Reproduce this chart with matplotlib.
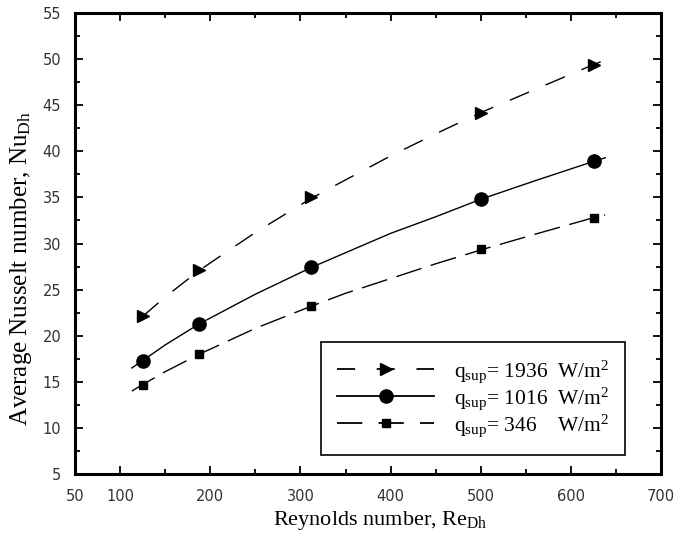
import matplotlib
matplotlib.use("Agg")
import matplotlib.pyplot as plt
from matplotlib.lines import Line2D
from matplotlib.ticker import MultipleLocator, FixedLocator

plt.rcParams['font.family'] = ['Liberation Serif', 'DejaVu Serif']
plt.rcParams['mathtext.fontset'] = 'custom'
plt.rcParams['mathtext.rm'] = 'Liberation Serif'
plt.rcParams['mathtext.it'] = 'Liberation Serif:italic'

# measured data points
re_pts = [125, 188, 312, 500, 625]
nu_1936 = [22.1, 27.1, 35.0, 44.2, 49.4]
nu_1016 = [17.3, 21.3, 27.4, 34.8, 38.9]
nu_346 = [14.7, 18.0, 23.2, 29.4, 32.8]

# fitted curves
re_fit_1936 = [125, 150, 188, 250, 312, 350, 400, 450, 500, 560, 625, 638]
fit_1936 = [22.1, 24.2, 27.1, 31.2, 34.9, 36.9, 39.5, 41.9, 44.2, 46.7, 49.4, 49.9]
re_fit = [113, 125, 150, 188, 250, 312, 350, 400, 450, 500, 560, 625, 638]
fit_1016 = [16.5, 17.3, 19.0, 21.3, 24.5, 27.4, 29.0, 31.1, 32.9, 34.8, 36.8, 38.9, 39.3]
fit_346 = [14.0, 14.7, 16.1, 18.0, 20.8, 23.2, 24.6, 26.2, 27.8, 29.3, 31.0, 32.8, 33.1]

labels = [r'q$_{\rm sup}$= 1936  W/m$^{2}$',
          r'q$_{\rm sup}$= 1016  W/m$^{2}$',
          r'q$_{\rm sup}$= 346    W/m$^{2}$']

x_ticks = [50, 100, 200, 300, 400, 500, 600, 700]

fig = plt.figure(figsize=(6.76, 5.37), dpi=100)
ax = fig.add_axes([0.111, 0.1173, 0.867, 0.8585])

ls_tri = (0, (15, 13))
ls_sq = (0, (19, 7))

ax.plot(re_fit_1936, fit_1936, color='black', lw=1.0, linestyle=ls_tri)
ax.plot(re_fit, fit_1016, color='black', lw=1.0, linestyle='-')
ax.plot(re_fit, fit_346, color='black', lw=1.0, linestyle=ls_sq)

ax.plot(re_pts, nu_1936, linestyle='none', marker='>', ms=8.5, color='black')
ax.plot(re_pts, nu_1016, linestyle='none', marker='o', ms=9.5, color='black')
ax.plot(re_pts, nu_346, linestyle='none', marker='s', ms=6, color='black')

ax.set_xlim(50, 700)
ax.set_ylim(5, 55)
ax.xaxis.set_major_locator(FixedLocator(x_ticks))
ax.xaxis.set_minor_locator(FixedLocator([150, 250, 350, 450, 550, 650]))
ax.yaxis.set_major_locator(MultipleLocator(5))
ax.yaxis.set_minor_locator(MultipleLocator(2.5))

ax.tick_params(which='both', direction='in', top=True, right=True, width=1.3, color='black')
ax.tick_params(which='major', length=5.5)
ax.tick_params(which='minor', length=3.5)
ax.tick_params(axis='y', which='major', pad=10)
ax.tick_params(axis='x', which='major', pad=11)
for lab in ax.get_xticklabels() + ax.get_yticklabels():
    lab.set_fontfamily('DejaVu Sans')
    lab.set_fontsize(10.5)
    lab.set_color('#333333')

for sp in ax.spines.values():
    sp.set_linewidth(2.2)

ax.set_xlabel(r'Reynolds number, Re$_{\rm Dh}$', fontsize=16)
ax.set_ylabel(r'Average Nusselt number, Nu$_{\rm Dh}$', fontsize=18)
ax.xaxis.set_label_coords(0.52, -0.075)
ax.yaxis.set_label_coords(-0.07, 0.445)

handles = [
    Line2D([], [], color='black', lw=1.3, linestyle=(0, (10, 12)), marker='>', ms=8),
    Line2D([], [], color='black', lw=1.3, linestyle='-', marker='o', ms=9.5),
    Line2D([], [], color='black', lw=1.3, linestyle=(0, (14, 9)), marker='s', ms=5.5),
]
leg = ax.legend(handles, labels, loc='lower left', bbox_to_anchor=(0.42, 0.041),
                borderaxespad=0, fontsize=15.5, handlelength=4.5, handletextpad=0.9,
                labelspacing=0.02, borderpad=0.75, fancybox=False, framealpha=1,
                edgecolor='black')
leg.get_frame().set_linewidth(1.2)

fig.savefig('out.png', dpi=100)
